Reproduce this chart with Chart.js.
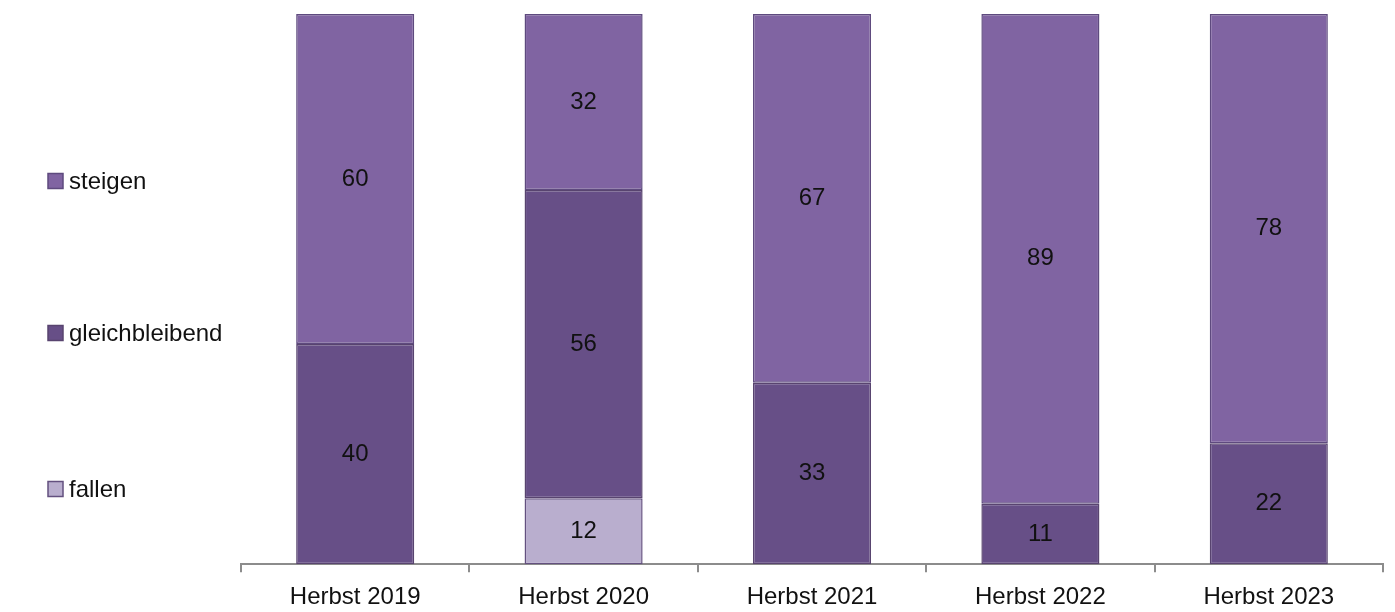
<!DOCTYPE html>
<html lang="de">
<head>
<meta charset="UTF-8">
<title>Erwartung Herbst 2019–2023</title>
<script src="https://cdn.jsdelivr.net/npm/chart.js@4.4.1/dist/chart.umd.min.js"></script>
<style>
  html, body { margin: 0; padding: 0; background: #ffffff; }
  .wrap { position: relative; width: 1395px; height: 612px; }
</style>
</head>
<body>
<div class="wrap"><canvas id="chart"></canvas></div>
<script>
  const kategorien = ['Herbst 2019', 'Herbst 2020', 'Herbst 2021', 'Herbst 2022', 'Herbst 2023'];
  const fallen = [0, 12, 0, 0, 0];
  const gleichbleibend = [40, 56, 33, 11, 22];
  const steigen = [60, 32, 67, 89, 78];

  const schrift = '"Liberation Sans", Arial, sans-serif';

  // Werte mittig in die Segmente schreiben
  const wertBeschriftung = {
    id: 'wertBeschriftung',
    afterDatasetsDraw(chart) {
      const ctx = chart.ctx;
      ctx.save();
      ctx.font = '24px ' + schrift;
      ctx.fillStyle = '#111111';
      ctx.textAlign = 'center';
      ctx.textBaseline = 'middle';
      chart.data.datasets.forEach((ds, i) => {
        chart.getDatasetMeta(i).data.forEach((bar, j) => {
          const v = ds.data[j];
          if (!v) return;
          ctx.fillText(String(v), bar.x, (bar.y + bar.base) / 2);
        });
      });
      ctx.restore();
    }
  };

  // Legende links, von oben nach unten: steigen, gleichbleibend, fallen
  const seitenLegende = {
    id: 'seitenLegende',
    afterDraw(chart) {
      const ctx = chart.ctx;
      const zeilen = [181, 333, 489];
      const ds = chart.data.datasets.slice().reverse();
      ctx.save();
      ctx.font = '24px ' + schrift;
      ctx.textBaseline = 'middle';
      ds.forEach((d, i) => {
        const y = zeilen[i];
        ctx.fillStyle = d.backgroundColor;
        ctx.fillRect(48, y - 7.5, 15, 15);
        ctx.strokeStyle = d.borderColor;
        ctx.lineWidth = 1.5;
        ctx.strokeRect(48, y - 7.5, 15, 15);
        ctx.fillStyle = '#111111';
        ctx.fillText(d.label, 69, y + 1);
      });
      ctx.restore();
    }
  };

  new Chart(document.getElementById('chart'), {
    type: 'bar',
    data: {
      labels: kategorien,
      datasets: [
        { label: 'fallen', data: fallen, backgroundColor: '#B9AECE', borderColor: '#63507F' },
        { label: 'gleichbleibend', data: gleichbleibend, backgroundColor: '#674F87', borderColor: '#58446F' },
        { label: 'steigen', data: steigen, backgroundColor: '#8064A2', borderColor: '#5E4A7E' }
      ].map(d => Object.assign(d, { borderWidth: 1.5, borderSkipped: false, categoryPercentage: 1, barPercentage: 0.517 }))
    },
    options: {
      responsive: true,
      maintainAspectRatio: false,
      animation: false,
      layout: { padding: { top: 14, right: 12, bottom: -11, left: 241 } },
      plugins: {
        tooltip: { enabled: false },
        legend: { display: false }
      },
      scales: {
        x: {
          stacked: true,
          border: { display: true, color: '#8c8c8c', width: 2 },
          grid: { display: true, offset: true, drawOnChartArea: false, drawTicks: true, tickLength: 8, color: '#8c8c8c', lineWidth: 2 },
          ticks: { color: '#111111', padding: 11, font: { family: schrift, size: 24 } }
        },
        y: {
          stacked: true,
          display: false,
          min: 0,
          max: 100
        }
      }
    },
    plugins: [wertBeschriftung, seitenLegende]
  });
</script>
</body>
</html>
